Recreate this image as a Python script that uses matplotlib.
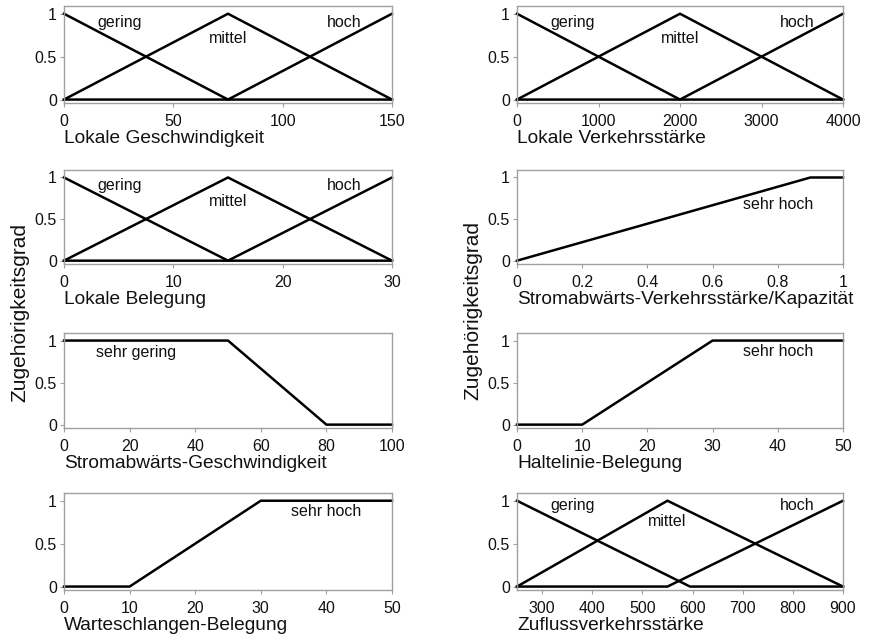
import numpy as np
import matplotlib.pyplot as plt

plt.rcParams['font.family'] = ['Liberation Sans', 'DejaVu Sans']

# Stuetzpunkte der Zugehoerigkeitsfunktionen (x-Werte, Zugehoerigkeit)
geschw_x = [0, 75, 150]
verkehr_x = [0, 2000, 4000]
belegung_x = [0, 15, 30]
drei_gering = [1, 0, 0]
drei_mittel = [0, 1, 0]
drei_hoch = [0, 0, 1]

ratio_x = [0, 0.9, 1]
ratio_y = [0, 1, 1]

stromab_x = [0, 50, 80, 100]
stromab_y = [1, 1, 0, 0]

halte_x = [0, 10, 30, 50]
halte_y = [0, 0, 1, 1]

warte_x = [0, 10, 30, 50]
warte_y = [0, 0, 1, 1]

zufluss_gering_x = [250, 595, 900]
zufluss_gering_y = [1, 0, 0]
zufluss_mittel_x = [250, 550, 900]
zufluss_mittel_y = [0, 1, 0]
zufluss_hoch_x = [250, 550, 900]
zufluss_hoch_y = [0, 0, 1]

W, H = 872, 637
fig = plt.figure(figsize=(W / 100, H / 100), dpi=100)


def make_ax(px_left, px_top, px_w, px_h):
    return fig.add_axes([px_left / W, 1 - (px_top + px_h) / H, px_w / W, px_h / H])


def style(ax, xlim, xticks, xticklabels, xlabel):
    ax.set_xlim(*xlim)
    ax.set_ylim(-0.04, 1.09)
    ax.set_yticks([0, 0.5, 1])
    ax.set_yticklabels(['0', '0.5', '1'])
    ax.set_xticks(xticks)
    ax.set_xticklabels(xticklabels)
    for s in ax.spines.values():
        s.set_color('#a0a0a0')
        s.set_linewidth(1.0)
    ax.tick_params(direction='out', length=3, width=0.8, color='#a0a0a0',
                   labelsize=11.5, labelcolor='#111111')
    ax.tick_params(axis='x', pad=5)
    ax.tick_params(axis='y', pad=2)
    ax.set_xlabel(xlabel, loc='left', fontsize=13.8, labelpad=0.5, color='#111111')


def curve(ax, x, y):
    ax.plot(x, y, color='black', lw=1.8, clip_on=False, solid_joinstyle='miter')


def label(ax, fx, fy, s):
    ax.text(fx, fy, s, transform=ax.transAxes, ha='center', va='center',
            fontsize=11.5, color='#111111')


lx, rx = 64, 517
lw_, rw_ = 328, 326
rows = [(6, 97), (170, 94), (333, 95), (493, 97)]

# Zeile 1 links
ax = make_ax(lx, rows[0][0], lw_, rows[0][1])
for yy in (drei_gering, drei_mittel, drei_hoch):
    curve(ax, geschw_x, yy)
style(ax, (0, 150), [0, 50, 100, 150], ['0', '50', '100', '150'], 'Lokale Geschwindigkeit')
label(ax, 0.17, 0.835, 'gering')
label(ax, 0.50, 0.67, 'mittel')
label(ax, 0.855, 0.835, 'hoch')

# Zeile 1 rechts
ax = make_ax(rx, rows[0][0], rw_, rows[0][1])
for yy in (drei_gering, drei_mittel, drei_hoch):
    curve(ax, verkehr_x, yy)
style(ax, (0, 4000), [0, 1000, 2000, 3000, 4000],
      ['0', '1000', '2000', '3000', '4000'], 'Lokale Verkehrsstärke')
label(ax, 0.17, 0.835, 'gering')
label(ax, 0.50, 0.67, 'mittel')
label(ax, 0.86, 0.835, 'hoch')

# Zeile 2 links
ax = make_ax(lx, rows[1][0], lw_, rows[1][1])
for yy in (drei_gering, drei_mittel, drei_hoch):
    curve(ax, belegung_x, yy)
style(ax, (0, 30), [0, 10, 20, 30], ['0', '10', '20', '30'], 'Lokale Belegung')
label(ax, 0.17, 0.835, 'gering')
label(ax, 0.50, 0.67, 'mittel')
label(ax, 0.855, 0.835, 'hoch')

# Zeile 2 rechts
ax = make_ax(rx, rows[1][0], rw_, rows[1][1])
curve(ax, ratio_x, ratio_y)
style(ax, (0, 1), [0, 0.2, 0.4, 0.6, 0.8, 1],
      ['0', '0.2', '0.4', '0.6', '0.8', '1'], 'Stromabwärts-Verkehrsstärke/Kapazität')
label(ax, 0.80, 0.63, 'sehr hoch')

# Zeile 3 links
ax = make_ax(lx, rows[2][0], lw_, rows[2][1])
curve(ax, stromab_x, stromab_y)
style(ax, (0, 100), [0, 20, 40, 60, 80, 100],
      ['0', '20', '40', '60', '80', '100'], 'Stromabwärts-Geschwindigkeit')
label(ax, 0.22, 0.80, 'sehr gering')

# Zeile 3 rechts
ax = make_ax(rx, rows[2][0], rw_, rows[2][1])
curve(ax, halte_x, halte_y)
style(ax, (0, 50), [0, 10, 20, 30, 40, 50],
      ['0', '10', '20', '30', '40', '50'], 'Haltelinie-Belegung')
label(ax, 0.80, 0.81, 'sehr hoch')

# Zeile 4 links
ax = make_ax(lx, rows[3][0], lw_, rows[3][1])
curve(ax, warte_x, warte_y)
style(ax, (0, 50), [0, 10, 20, 30, 40, 50],
      ['0', '10', '20', '30', '40', '50'], 'Warteschlangen-Belegung')
label(ax, 0.80, 0.81, 'sehr hoch')

# Zeile 4 rechts
ax = make_ax(rx, rows[3][0], rw_, rows[3][1])
curve(ax, zufluss_gering_x, zufluss_gering_y)
curve(ax, zufluss_mittel_x, zufluss_mittel_y)
curve(ax, zufluss_hoch_x, zufluss_hoch_y)
style(ax, (250, 900), [300, 400, 500, 600, 700, 800, 900],
      ['300', '400', '500', '600', '700', '800', '900'], 'Zuflussverkehrsstärke')
label(ax, 0.17, 0.866, 'gering')
label(ax, 0.46, 0.71, 'mittel')
label(ax, 0.86, 0.866, 'hoch')

# gemeinsame y-Beschriftung
fig.text(20 / W, 1 - 313 / H, 'Zugehörigkeitsgrad', rotation=90, ha='center',
         va='center', fontsize=15, color='#111111')
fig.text(473 / W, 1 - 310 / H, 'Zugehörigkeitsgrad', rotation=90, ha='center',
         va='center', fontsize=15, color='#111111')

fig.savefig('out.png', dpi=100, facecolor='white')
